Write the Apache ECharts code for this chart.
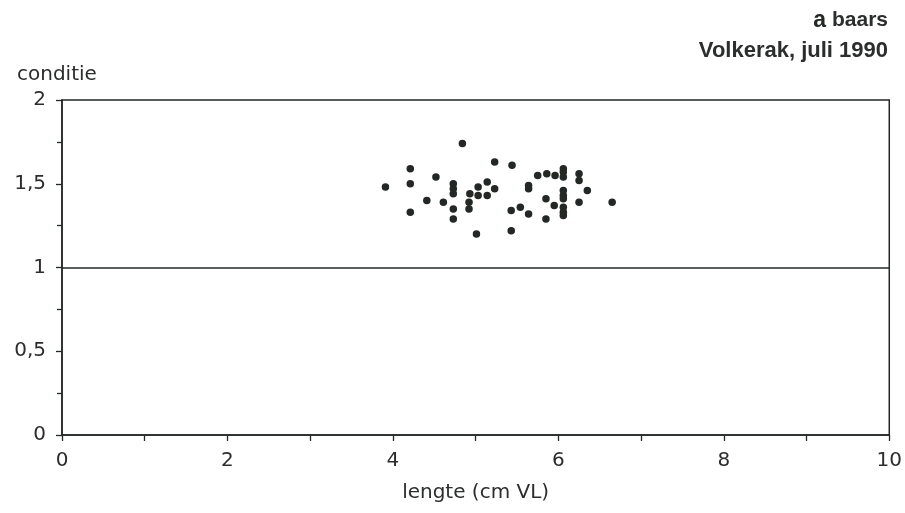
<!DOCTYPE html>
<html>
<head>
<meta charset="utf-8">
<title>baars – conditie tegen lengte</title>
<script src="https://cdn.jsdelivr.net/npm/echarts@6/dist/echarts.min.js"></script>
<style>
  html, body { margin: 0; padding: 0; background: #ffffff; }
  #chart { width: 905px; height: 513px; }
</style>
</head>
<body>
<div id="chart"></div>
<script>
// Baars, Volkerak juli 1990: lengte (cm VL) en conditie per vis
const lengte = [
  4.84, 4.21, 5.23, 3.91, 4.21, 4.52, 4.73, 4.73, 4.73, 5.03,
  5.14, 5.23, 4.93, 5.03, 5.14, 4.41, 4.61, 4.73, 4.92, 4.92,
  4.21, 4.73, 5.01, 5.44, 5.75, 5.86, 5.96, 6.06, 6.06, 6.06,
  6.25, 6.25, 5.64, 5.64, 6.35, 6.06, 6.06, 6.06, 5.85, 5.54,
  5.43, 5.95, 6.06, 6.06, 6.06, 6.25, 5.64, 5.85, 6.65, 5.43
];
const conditie = [
  1.74, 1.59, 1.63, 1.48, 1.50, 1.54, 1.50, 1.47, 1.44, 1.48,
  1.51, 1.47, 1.44, 1.43, 1.43, 1.40, 1.39, 1.35, 1.39, 1.35,
  1.33, 1.29, 1.20, 1.61, 1.55, 1.56, 1.55, 1.59, 1.57, 1.54,
  1.56, 1.52, 1.49, 1.47, 1.46, 1.46, 1.43, 1.41, 1.41, 1.36,
  1.34, 1.37, 1.36, 1.33, 1.31, 1.39, 1.32, 1.29, 1.39, 1.22
];
const referentie = 1;
const xTicks = [0, 2, 4, 6, 8, 10];
const yTicks = [0, 0.5, 1, 1.5, 2];

const punten = lengte.map((l, i) => [l, conditie[i]]);
const ink = '#232824';
const textInk = '#2b2e2c';
const axisFont = '"DejaVu Sans", Verdana, sans-serif';
const titleFont = '"Liberation Sans", Arial, sans-serif';

const chart = echarts.init(document.getElementById('chart'), null, { renderer: 'canvas' });
chart.setOption({
  animation: false,
  backgroundColor: '#ffffff',
  textStyle: { fontFamily: axisFont, color: textInk },
  title: [
    {
      text: '{m|a} baars',
      right: 12, top: 4,
      textStyle: {
        fontFamily: titleFont, fontSize: 21, fontWeight: 'bold', color: textInk,
        rich: { m: { fontFamily: titleFont, fontSize: 23, fontWeight: 900, color: ink } }
      }
    },
    {
      text: 'Volkerak, juli 1990',
      right: 12, top: 35,
      textStyle: { fontFamily: titleFont, fontSize: 22, fontWeight: 'bold', color: textInk }
    },
    {
      text: 'conditie',
      left: 12, top: 60,
      textStyle: { fontFamily: axisFont, fontSize: 20, fontWeight: 'normal', color: textInk }
    }
  ],
  grid: {
    left: 62, right: 15, top: 100, bottom: 78,
    show: true, borderColor: ink, borderWidth: 1.5, backgroundColor: 'transparent'
  },
  xAxis: {
    type: 'value',
    min: xTicks[0], max: xTicks[xTicks.length - 1], interval: 2,
    name: 'lengte (cm VL)', nameLocation: 'middle', nameGap: 48,
    nameTextStyle: { fontFamily: axisFont, fontSize: 20, color: textInk },
    axisLine: { show: true, onZero: false, lineStyle: { color: ink, width: 1.5 } },
    axisTick: { show: true, length: 6, lineStyle: { color: ink, width: 1.3 } },
    minorTick: { show: true, splitNumber: 2, length: 6, lineStyle: { color: ink, width: 1.3 } },
    axisLabel: { fontFamily: axisFont, fontSize: 20, color: textInk, margin: 16 },
    splitLine: { show: false }
  },
  yAxis: {
    type: 'value',
    min: yTicks[0], max: yTicks[yTicks.length - 1], interval: 0.5,
    axisLine: { show: true, onZero: false, lineStyle: { color: ink, width: 1.5 } },
    axisTick: { show: true, length: 6, lineStyle: { color: ink, width: 1.3 } },
    minorTick: { show: true, splitNumber: 2, length: 5, lineStyle: { color: ink, width: 1.3 } },
    axisLabel: {
      fontFamily: axisFont, fontSize: 20, color: textInk, margin: 16,
      formatter: v => String(v).replace('.', ',')
    },
    splitLine: { show: false }
  },
  series: [
    {
      type: 'scatter',
      data: punten,
      symbol: 'circle',
      symbolSize: 7.5,
      itemStyle: { color: ink, opacity: 1 },
      markLine: {
        silent: true,
        symbol: ['none', 'none'],
        label: { show: false },
        lineStyle: { color: ink, width: 1.5, type: 'solid' },
        data: [{ yAxis: referentie }]
      }
    }
  ]
});
</script>
</body>
</html>
